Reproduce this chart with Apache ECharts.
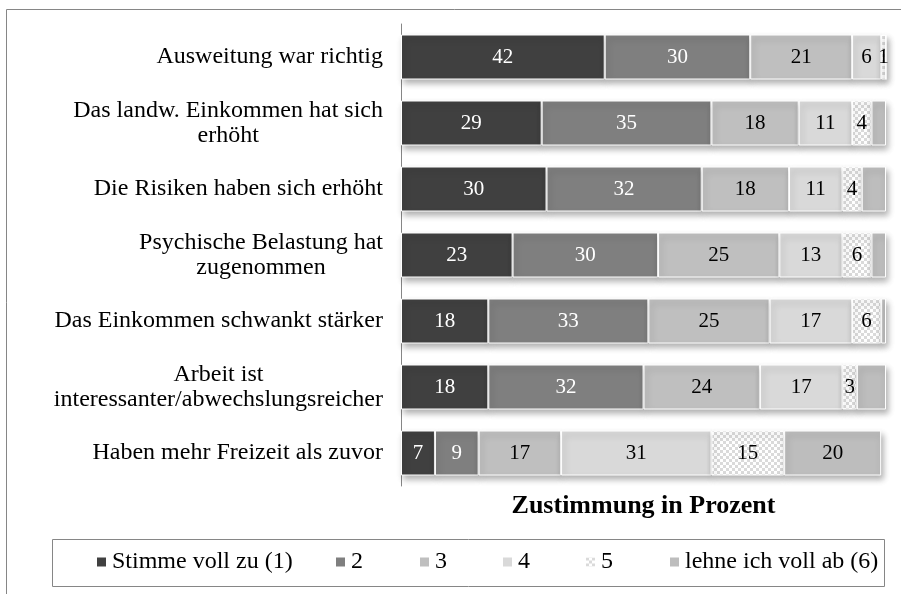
<!DOCTYPE html>
<html>
<head>
<meta charset="utf-8">
<script src="https://cdn.jsdelivr.net/npm/echarts@6/dist/echarts.min.js"></script>
<style>
	html, body { margin: 0; padding: 0; background: #fff; }
	#chart { width: 901px; height: 594px; }
</style>
</head>
<body>
<div id="chart"></div>
<script>
const categories = [
	'Ausweitung war richtig',
	'Das landw. Einkommen hat sich\nerhöht',
	'Die Risiken haben sich erhöht',
	'Psychische Belastung hat\nzugenommen',
	'Das Einkommen schwankt stärker',
	'Arbeit ist\ninteressanter/abwechslungsreicher',
	'Haben mehr Freizeit als zuvor'
];
const seriesNames = ['Stimme voll zu (1)', '2', '3', '4', '5', 'lehne ich voll ab (6)'];
const stimme1 = [42, 29, 30, 23, 18, 18, 7];
const stimme2 = [30, 35, 32, 30, 33, 32, 9];
const stimme3 = [21, 18, 18, 25, 25, 24, 17];
const stimme4 = [6, 11, 11, 13, 17, 17, 31];
const stimme5 = [1, 4, 4, 6, 6, 3, 15];
const stimme6 = [0, 3, 5, 3, 1, 6, 20];
const xAxisTitle = 'Zustimmung in Prozent';

const FONT = '"Liberation Serif", "Times New Roman", serif';
const FRAME = '#868686';

// checkered fill for "5", like the Excel pattern
function checkerPattern() {
	const c = document.createElement('canvas');
	c.width = 6;
	c.height = 6;
	const ctx = c.getContext('2d');
	ctx.fillStyle = '#ffffff';
	ctx.fillRect(0, 0, 6, 6);
	ctx.fillStyle = '#dadada';
	ctx.fillRect(0, 0, 3, 3);
	ctx.fillRect(3, 3, 3, 3);
	return { image: c, repeat: 'repeat' };
}

const colors = ['#404040', '#7f7f7f', '#bfbfbf', '#d9d9d9', checkerPattern(), '#bdbdbd'];
const labelColors = ['#fff', '#fff', '#000', '#000', '#000', '#000'];
const values = [stimme1, stimme2, stimme3, stimme4, stimme5, stimme6];

function makeSeries(i) {
	return {
		name: seriesNames[i],
		type: 'bar',
		stack: 'total',
		barWidth: 45,
		data: values[i],
		itemStyle: {
			color: colors[i],
			borderColor: '#fff',
			borderWidth: 1,
			shadowBlur: 6,
			shadowOffsetX: 2,
			shadowOffsetY: 4,
			shadowColor: 'rgba(0,0,0,0.3)'
		},
		label: {
			show: true,
			position: 'inside',
			fontFamily: FONT,
			fontSize: 21,
			color: labelColors[i],
			// the last group is only labelled where it is wide enough
			formatter: p => (i === 5 && p.value < 10) || p.value === 0 ? '' : String(p.value)
		},
		emphasis: { disabled: true }
	};
}

// one legend per entry so the columns sit where the original has them
const legendLefts = [97, 336, 420, 503, 586, 670];
const legends = seriesNames.map((name, i) => ({
	data: [name],
	left: legendLefts[i],
	top: 550,
	padding: 0,
	itemWidth: 9,
	itemHeight: 9,
	icon: 'rect',
	selectedMode: false,
	itemStyle: { borderWidth: 0, shadowBlur: 0, shadowOffsetX: 0, shadowOffsetY: 0 },
	textStyle: { fontFamily: FONT, fontSize: 24, color: '#000', lineHeight: 24, padding: [0, 0, 0, 1] }
}));

const chart = echarts.init(document.getElementById('chart'));
chart.setOption({
	animation: false,
	backgroundColor: '#fff',
	grid: { left: 401, right: 15, top: 24, bottom: 108 },
	legend: legends,
	xAxis: {
		type: 'value',
		min: 0,
		max: 100,
		axisLine: { show: false },
		axisTick: { show: false },
		axisLabel: { show: false },
		splitLine: { show: false },
		name: xAxisTitle,
		nameLocation: 'middle',
		nameGap: 7,
		nameTextStyle: { fontFamily: FONT, fontSize: 26, fontWeight: 'bold', color: '#000', verticalAlign: 'top' }
	},
	yAxis: {
		type: 'category',
		inverse: true,
		data: categories,
		axisLine: { lineStyle: { color: FRAME, width: 1 } },
		axisTick: { length: 6, lineStyle: { color: FRAME } },
		axisLabel: {
			margin: 18,
			align: 'right',
			formatter: v => v.split('\n').map(s => '{c|' + s + '}').join('\n'),
			rich: {
				c: { align: 'center', fontFamily: FONT, fontSize: 24, color: '#000', lineHeight: 25 }
			}
		}
	},
	graphic: [
		{
			type: 'rect',
			shape: { x: 6.5, y: 9.5, width: 1000, height: 1000 },
			style: { fill: 'none', stroke: FRAME, lineWidth: 1 },
			silent: true
		},
		{
			type: 'rect',
			shape: { x: 52.5, y: 539.5, width: 832, height: 47 },
			style: { fill: 'none', stroke: FRAME, lineWidth: 1 },
			silent: true
		}
	],
	series: seriesNames.map((n, i) => makeSeries(i))
});
</script>
</body>
</html>
